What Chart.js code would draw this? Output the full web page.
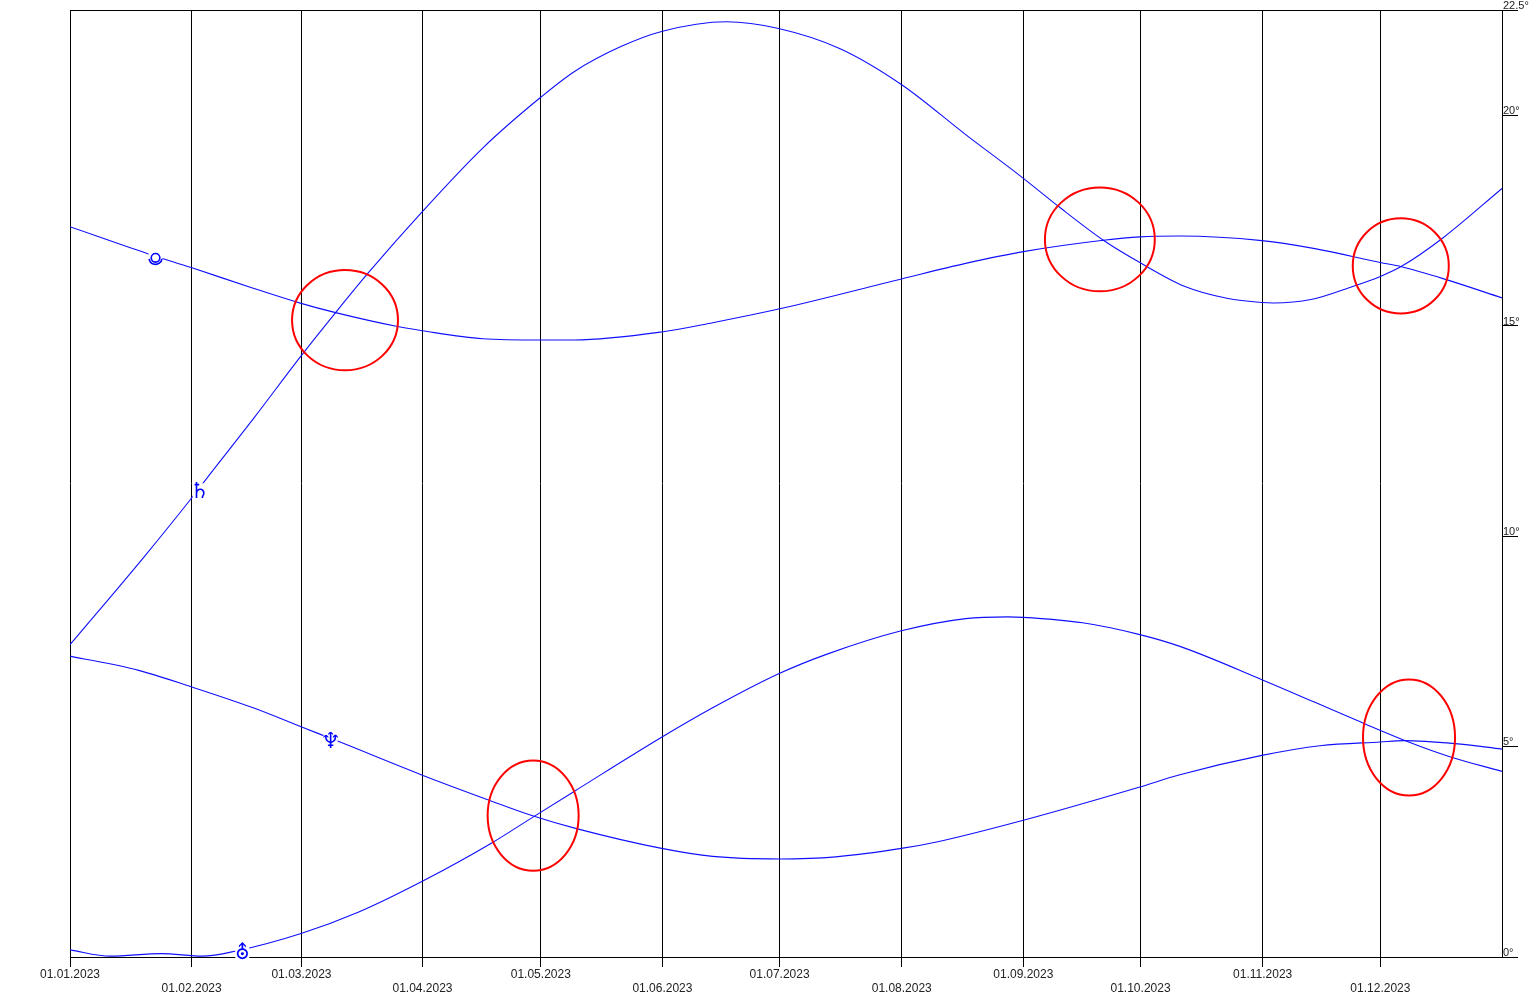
<!DOCTYPE html>
<html>
<head>
<meta charset="utf-8">
<title>Chart</title>
<script src="https://cdn.jsdelivr.net/npm/chart.js@4"></script>
<style>
  html, body { margin: 0; padding: 0; background: #fff; }
  canvas { display: block; }
</style>
</head>
<body>
<canvas id="chart" width="1532" height="997"></canvas>
<script>
// day of year (0 = 01.01.2023) and degrees
const plutoDays = [0, 19.8, 30.9, 46.7, 58.9, 67.7, 83.5, 89.8, 105.2, 119.9, 128.6, 150.8, 163.8, 180.9, 211.9, 228.3, 243, 263.4, 272.7, 282.9, 303.8, 317.3, 334, 339.4, 350.6, 365];
const plutoDeg = [17.35, 16.71, 16.38, 15.89, 15.53, 15.31, 14.98, 14.88, 14.69, 14.66, 14.66, 14.85, 15.07, 15.40, 16.11, 16.48, 16.76, 17.03, 17.11, 17.13, 17.02, 16.83, 16.50, 16.40, 16.10, 15.66];

const saturnDays = [0, 19, 30.7, 35, 47, 58.8, 67.7, 75.9, 89.8, 105.2, 119.9, 128.6, 140.4, 150.8, 167.3, 180.6, 196.3, 211.9, 228.3, 243, 252, 263.4, 272.7, 284.2, 294.9, 303.8, 306.7, 316.3, 326.9, 334, 339.4, 350, 365];
const saturnDeg = [7.42, 9.52, 10.87, 11.39, 12.82, 14.27, 15.31, 16.24, 17.71, 19.22, 20.42, 21.04, 21.63, 21.99, 22.22, 22.06, 21.58, 20.73, 19.54, 18.5, 17.83, 17.03, 16.5, 15.93, 15.65, 15.55, 15.54, 15.62, 15.93, 16.17, 16.41, 17.09, 18.26];

const neptuneDays = [0, 17.5, 30.9, 46.7, 58.9, 69, 89.8, 107, 118.1, 129.1, 150.8, 163.8, 180.9, 195.2, 211.9, 221.2, 243, 272.7, 282.9, 303.8, 318.6, 334, 340, 353, 365];
const neptuneDeg = [7.15, 6.81, 6.42, 5.92, 5.47, 5.10, 4.32, 3.72, 3.35, 3.05, 2.58, 2.39, 2.33, 2.38, 2.58, 2.74, 3.25, 4.04, 4.33, 4.79, 5.02, 5.11, 5.14, 5.07, 4.94];

const uranusDays = [0, 10.3, 23.3, 33.8, 42.6, 58.9, 73.6, 89.8, 107.5, 118.1, 128.6, 150.8, 163.8, 180.9, 192.8, 211.9, 228.3, 239, 243, 258.1, 272.7, 282.9, 303.8, 329.8, 341.2, 351.7, 365];
const uranusDeg = [0.17, 0.02, 0.08, 0.02, 0.15, 0.56, 1.07, 1.80, 2.71, 3.33, 3.94, 5.22, 5.92, 6.74, 7.19, 7.75, 8.04, 8.08, 8.07, 7.94, 7.66, 7.38, 6.59, 5.55, 5.11, 4.76, 4.41];

const tickDays = [0, 31, 59, 89.85, 120, 151, 180.86, 212, 243, 272.87, 304, 334];
const tickLabels = ['01.01.2023', '01.02.2023', '01.03.2023', '01.04.2023', '01.05.2023', '01.06.2023', '01.07.2023', '01.08.2023', '01.09.2023', '01.10.2023', '01.11.2023', '01.12.2023'];
const degTicks = [0, 5, 10, 15, 20, 22.5];

// planet symbols sitting on the curves
const symbolChars = ['', '♄', '♆', '⛢'];
const symbolSizes = [0, 22, 22, 20];
const symbolDays = [21.8, 33.05, 66.4, 43.9];
const symbolDeg = [16.6, 11.04, 5.11, 0.08];

// red rings, centre and radii in axis units
const ringDays = [70.1, 262.5, 339.2, 118.05, 341.3];
const ringDeg = [15.13, 17.05, 16.42, 3.36, 5.215];
const ringRadiusDays = [13.5, 14.0, 12.24, 11.6, 11.73];
const ringRadiusDeg = [1.19, 1.235, 1.13, 1.31, 1.38];

const BLUE = '#1010ff';

function toPoints(days, deg) {
  return days.map((d, i) => ({ x: d, y: deg[i] }));
}

function curve(days, deg) {
  return {
    data: toPoints(days, deg),
    borderColor: BLUE,
    borderWidth: 1.1,
    pointRadius: 0,
    cubicInterpolationMode: 'monotone',
    fill: false,
  };
}

const overlays = {
  id: 'overlays',
  afterDatasetsDraw(chart) {
    const { ctx, scales: { x, y } } = chart;

    symbolDays.forEach((d, i) => {
      const px = x.getPixelForValue(d);
      const py = y.getPixelForValue(symbolDeg[i]);
      ctx.save();
      ctx.fillStyle = '#fff';
      ctx.fillRect(px - 7, py - 9, 14, 16);
      ctx.fillStyle = '#0000ff';
      ctx.strokeStyle = '#0000ff';
      if (symbolChars[i]) {
        ctx.font = `${symbolSizes[i]}px "DejaVu Sans"`;
        ctx.textAlign = 'center';
        ctx.textBaseline = 'middle';
        ctx.fillText(symbolChars[i], px, py);
      } else {
        // no font here has this form of the Pluto sign
        ctx.lineWidth = 1.6;
        ctx.beginPath();
        ctx.arc(px, py - 0.5, 4.3, 0, Math.PI * 2);
        ctx.stroke();
        ctx.beginPath();
        ctx.arc(px, py - 0.5, 6.5, Math.PI * 0.05, Math.PI * 0.95);
        ctx.stroke();
      }
      ctx.restore();
    });

    ringDays.forEach((d, i) => {
      const px = x.getPixelForValue(d);
      const py = y.getPixelForValue(ringDeg[i]);
      const rx = x.getPixelForValue(d + ringRadiusDays[i]) - px;
      const ry = py - y.getPixelForValue(ringDeg[i] + ringRadiusDeg[i]);
      ctx.save();
      ctx.strokeStyle = '#ff0000';
      ctx.lineWidth = 2;
      ctx.beginPath();
      ctx.ellipse(px, py, rx, ry, 0, 0, Math.PI * 2);
      ctx.stroke();
      ctx.restore();
    });
  },
};

new Chart(document.querySelector('#chart'), {
  type: 'scatter',
  data: {
    datasets: [
      curve(plutoDays, plutoDeg),
      curve(saturnDays, saturnDeg),
      curve(neptuneDays, neptuneDeg),
      curve(uranusDays, uranusDeg),
    ],
  },
  options: {
    responsive: false,
    animation: false,
    showLine: true,
    layout: { padding: { left: 70, top: 10, right: 0, bottom: 0 } },
    plugins: {
      legend: { display: false },
      title: { display: false },
      tooltip: { enabled: false },
    },
    scales: {
      x: {
        type: 'linear',
        min: 0,
        max: 365,
        afterBuildTicks: (scale) => {
          scale.ticks = tickDays.map((d) => ({ value: d }));
        },
        afterFit: (scale) => {
          scale.height = 40;
        },
        grid: { color: '#000', tickColor: '#000', tickLength: 10, lineWidth: 1 },
        border: { color: '#000' },
        ticks: {
          autoSkip: false,
          maxRotation: 0,
          padding: 1,
          color: '#222',
          font: { family: '"Liberation Sans"', size: 12, lineHeight: 14 / 12 },
          // labels take turns on two rows
          callback: (value) => {
            const i = tickDays.indexOf(value);
            return i % 2 === 0 ? [tickLabels[i], ''] : ['', tickLabels[i]];
          },
        },
      },
      y: {
        position: 'right',
        min: 0,
        max: 22.5,
        afterBuildTicks: (scale) => {
          scale.ticks = degTicks.map((v) => ({ value: v }));
        },
        afterFit: (scale) => {
          scale.width = 30;
        },
        grid: {
          color: (ctx) => (ctx.tick && (ctx.tick.value === 0 || ctx.tick.value === 22.5) ? '#000' : 'rgba(0,0,0,0)'),
          tickColor: '#000',
          tickLength: 16,
          lineWidth: 1,
        },
        border: { color: '#000' },
        ticks: {
          autoSkip: false,
          padding: -15,
          color: '#222',
          font: { family: '"Liberation Sans"', size: 11, lineHeight: 0.75 },
          // second empty line lifts the label above its tick
          callback: (value) => [`${value}°`, ''],
        },
      },
    },
  },
  plugins: [overlays],
});
</script>
</body>
</html>
